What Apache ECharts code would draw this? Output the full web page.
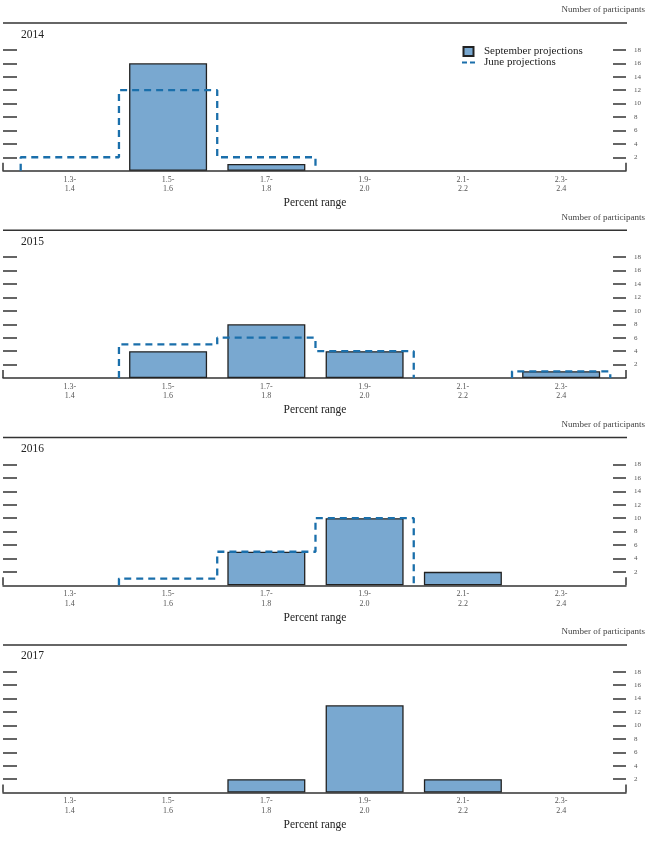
<!DOCTYPE html>
<html>
<head>
<meta charset="utf-8">
<script src="https://cdn.jsdelivr.net/npm/echarts@6/dist/echarts.min.js"></script>
<style>html,body{margin:0;padding:0;background:#fff;}#c{width:647px;height:851px;}</style>
</head>
<body>
<div id="c"></div>
<script>
const categories = ['1.3-\n1.4', '1.5-\n1.6', '1.7-\n1.8', '1.9-\n2.0', '2.1-\n2.2', '2.3-\n2.4'];
const years = ['2014', '2015', '2016', '2017'];
const sept2014 = [0, 16, 1, 0, 0, 0];
const sept2015 = [0, 4, 8, 4, 0, 1];
const sept2016 = [0, 0, 5, 10, 2, 0];
const sept2017 = [0, 0, 2, 13, 2, 0];
const june2014 = [2, 12, 2, 0, 0, 0];
const june2015 = [0, 5, 6, 4, 0, 1];
const june2016 = [0, 1, 5, 10, 0, 0];
const june2017 = null;
const yTickValues = [2, 4, 6, 8, 10, 12, 14, 16, 18];
const yMax = 22;
const xMin = -0.68, xMax = 5.66;

const septAll = [sept2014, sept2015, sept2016, sept2017];
const juneAll = [june2014, june2015, june2016, june2017];

const SERIF = '"Liberation Serif", "DejaVu Serif", serif';
const PITCH = 207.3;
const BAR_FILL = '#79a8d0';
const DASH_COLOR = '#1a6fab';

function stepPoints(vals) {
  const pts = [];
  const n = vals.length;
  let i = 0;
  while (i < n) {
    if (!vals[i]) { i++; continue; }
    pts.push([i - 0.5, 0]);
    while (i < n && vals[i]) {
      pts.push([i - 0.5, vals[i]], [i + 0.5, vals[i]]);
      i++;
    }
    pts.push([i - 0.5, 0]);
    pts.push([i - 0.5, '-']);
  }
  return pts;
}

const grids = [], xAxes = [], yAxes = [], series = [], graphics = [];
years.forEach((yr, k) => {
  const off = PITCH * k;
  grids.push({ left: 3, right: 21, top: 23 + off, height: 147.7, containLabel: false });
  xAxes.push({
    type: 'value', gridIndex: k, min: xMin, max: xMax,
    axisLine: { show: true, onZero: false, lineStyle: { color: '#333', width: 1.5 } },
    axisTick: { show: true, inside: true, length: 8, customValues: [xMin, xMax], lineStyle: { color: '#333', width: 1.5 } },
    axisLabel: { show: true, customValues: [0, 1, 2, 3, 4, 5], formatter: v => categories[Math.round(v)],
      fontSize: 8, lineHeight: 9.5, margin: 4, color: '#555', fontFamily: SERIF },
    splitLine: { show: false }
  });
  yAxes.push({
    type: 'value', gridIndex: k, position: 'left', min: 0, max: yMax, interval: 2,
    axisLine: { show: false, onZero: false },
    axisTick: { show: true, inside: true, length: 14, customValues: yTickValues, lineStyle: { color: '#333', width: 1.5 } },
    axisLabel: { show: false },
    splitLine: { show: false }
  });
  yAxes.push({
    type: 'value', gridIndex: k, position: 'right', min: 0, max: yMax, interval: 2,
    axisLine: { show: false, onZero: false },
    axisTick: { show: true, inside: true, length: 13, customValues: yTickValues, lineStyle: { color: '#333', width: 1.5 } },
    axisLabel: { show: true, customValues: yTickValues, fontSize: 7, margin: 8, color: '#555', fontFamily: SERIF },
    splitLine: { show: false }
  });
  series.push({
    type: 'bar', name: 'September projections', xAxisIndex: k, yAxisIndex: 2 * k,
    barWidth: 78,
    data: septAll[k].map((v, i) => [i, v]).filter(d => d[1] > 0),
    itemStyle: { color: BAR_FILL, borderColor: '#222', borderWidth: 1.3 },
    silent: true, animation: false
  });
  if (juneAll[k]) {
    series.push({
      type: 'line', name: 'June projections', xAxisIndex: k, yAxisIndex: 2 * k,
      data: stepPoints(juneAll[k]), symbol: 'none', showSymbol: false, connectNulls: false,
      lineStyle: { color: DASH_COLOR, width: 2.3, type: [7, 5] },
      itemStyle: { color: DASH_COLOR },
      z: 5, silent: true, animation: false
    });
  }
  graphics.push({
    type: 'text', x: 645, y: 10 + off,
    style: { text: 'Number of participants', font: '9px ' + SERIF, fill: '#444', textAlign: 'right', textVerticalAlign: 'middle' }
  });
  graphics.push({
    type: 'line', shape: { x1: 3, y1: 23 + off, x2: 627, y2: 23 + off },
    style: { stroke: '#333', lineWidth: 1.5 }
  });
  graphics.push({
    type: 'text', x: 21, y: 34.5 + off,
    style: { text: yr, font: '11.5px ' + SERIF, fill: '#222', textAlign: 'left', textVerticalAlign: 'middle' }
  });
  graphics.push({
    type: 'text', x: 315, y: 203 + off,
    style: { text: 'Percent range', font: '11.5px ' + SERIF, fill: '#222', textAlign: 'center', textVerticalAlign: 'middle' }
  });
});

const chart = echarts.init(document.getElementById('c'), null, { renderer: 'canvas' });
chart.setOption({
  animation: false,
  backgroundColor: '#fff',
  grid: grids,
  xAxis: xAxes,
  yAxis: yAxes,
  series: series,
  legend: {
    orient: 'vertical', left: 462, top: 46, padding: 0, itemGap: 0,
    itemWidth: 13, itemHeight: 9,
    data: [
      { name: 'September projections', icon: 'path://M0,0h10v9h-10z' },
      { name: 'June projections', icon: 'path://M0,0h5v2.2h-5zM8,0h5v2.2h-5z', itemStyle: { color: DASH_COLOR, borderWidth: 0 } }
    ],
    textStyle: { fontSize: 11, fontFamily: SERIF, color: '#222', padding: [0, 0, 0, 4] }
  },
  graphic: graphics
});
</script>
</body>
</html>
